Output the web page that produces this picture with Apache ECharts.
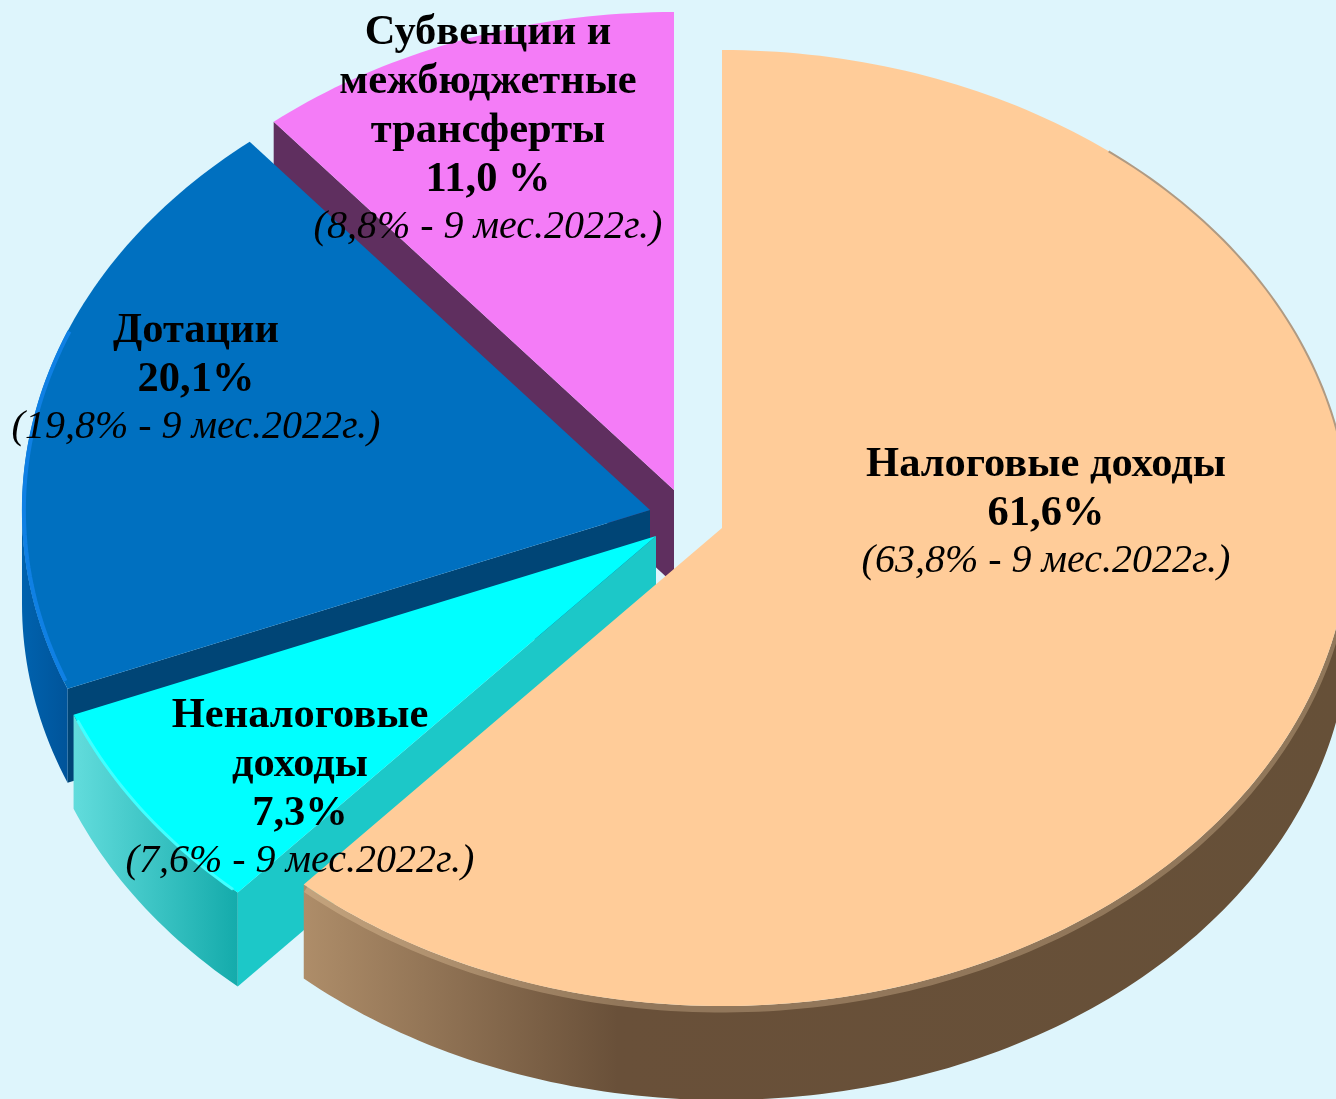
<!DOCTYPE html>
<html>
<head>
<meta charset="utf-8">
<style>html,body{margin:0;padding:0;background:#DEF5FC}#c{width:1336px;height:1099px}</style>
<script src="https://cdn.jsdelivr.net/npm/echarts@6/dist/echarts.min.js"></script>
</head>
<body>
<div id="c"></div>
<script>
// ---- data ----
const categories = ['Налоговые доходы', 'Неналоговые\nдоходы', 'Дотации', 'Субвенции и\nмежбюджетные\nтрансферты'];
const values = [61.6, 7.3, 20.1, 11.0];
const valueLabels = ['61,6%', '7,3%', '20,1%', '11,0 %'];
const previousLabels = ['63,8%', '7,6%', '19,8%', '8,8%'];
const previousPeriod = '9 мес.2022г.';

// ---- layout and styles ----
const RX = 628, RY = 478, DEPTH = 94;
const sliceTips = [[722, 528], [656, 536], [650, 510], [674, 490]];
const paintOrder = [3, 2, 1, 0];
const labelAnchors = [[1046, 465], [300, 716], [196, 331], [488, 33]];
const topColors = ['#FFCC99', '#00FFFF', '#0070C0', '#F47CF7'];
const radialWallColors = ['#665038', '#1CC8C8', '#004576', '#5F2F5F'];
const outerWallStops = [
  [[0, '#AE8D69'], [0.3, '#695039'], [1, '#665038']],
  [[0, '#62DCDC'], [1, '#14ABAB']],
  [[0, '#0062AE'], [1, '#00549A']],
  [[0, '#5F2F5F'], [1, '#5F2F5F']]
];
const bevels = [
  {from: 100, to: 221.5, color: 'rgba(255,222,180,0.28)', width: 7, dy: 3},
  {from: 222.5, to: 247.5, color: '#40FFFF', width: 3, dy: 2},
  {from: 249, to: 292, color: '#0F80E4', width: 4, dy: 0},
  null
];
const rimLines = [{from: 38, to: 100, color: '#B09A82', width: 2}, null, null, null];

const total = values.reduce((a, b) => a + b, 0);
const startAngles = [];
values.reduce((acc, v, i) => { startAngles[i] = acc; return acc + v / total * 360; }, 0);

function point(tip, deg, scale, dy) {
  const t = deg * Math.PI / 180;
  return [tip[0] + RX * scale * Math.sin(t), tip[1] - RY * scale * Math.cos(t) + (dy || 0)];
}
function arc(tip, a, b, scale, dy) {
  const pts = [], n = Math.max(2, Math.ceil(Math.abs(b - a)));
  for (let i = 0; i <= n; i++) pts.push(point(tip, a + (b - a) * i / n, scale, dy));
  return pts;
}

function renderSlice(params) {
  const i = params.dataIndex, tip = sliceTips[i];
  const a = startAngles[i], b = a + values[i] / total * 360;
  const base = paintOrder[i] * 10;
  const children = [];

  if (Math.sin(a * Math.PI / 180) < -1e-6) {
    const s = point(tip, a, 1);
    children.push({type: 'polygon', z2: base + 1,
      shape: {points: [tip, s, [s[0], s[1] + DEPTH], [tip[0], tip[1] + DEPTH]]},
      style: {fill: radialWallColors[i]}});
  }
  const wa = Math.max(a, 90), wb = Math.min(b, 270);
  if (wb > wa) {
    const upper = arc(tip, wa, wb, 1, 0), lower = arc(tip, wb, wa, 1, DEPTH);
    children.push({type: 'polygon', z2: base + 2,
      shape: {points: upper.concat(lower)},
      style: {fill: {type: 'linear', x: 0, y: 0, x2: 1, y2: 0, colorStops:
        outerWallStops[i].map(s => ({offset: s[0], color: s[1]}))}}});
  }
  const bevel = bevels[i];
  if (bevel && i === 0) {
    children.push({type: 'polyline', z2: base + 3,
      shape: {points: arc(tip, bevel.from, bevel.to, 1, bevel.dy)},
      style: {fill: null, stroke: bevel.color, lineWidth: bevel.width}});
  }
  children.push({type: 'polygon', z2: base + 4,
    shape: {points: [tip].concat(arc(tip, a, b, 1, 0))},
    style: {fill: topColors[i]}});
  if (bevel && i !== 0) {
    children.push({type: 'polyline', z2: base + 5,
      shape: {points: arc(tip, bevel.from, bevel.to, 0.997, bevel.dy)},
      style: {fill: null, stroke: bevel.color, lineWidth: bevel.width}});
  }
  const rim = rimLines[i];
  if (rim) {
    children.push({type: 'polyline', z2: base + 5,
      shape: {points: arc(tip, rim.from, rim.to, 1, 0)},
      style: {fill: null, stroke: rim.color, lineWidth: rim.width}});
  }
  return {type: 'group', children};
}

const FONT = '"Liberation Serif","Times New Roman",serif';
function renderLabel(params) {
  const i = params.dataIndex, x = labelAnchors[i][0];
  let y = labelAnchors[i][1];
  const lines = categories[i].split('\n').concat(valueLabels[i]);
  const children = [];
  const t = (text, yy, weight, style, size) => ({type: 'text', z2: 100,
    style: {x, y: yy, text, fontFamily: FONT, fontWeight: weight, fontStyle: style, fontSize: size,
      fill: '#000', textAlign: 'center', textVerticalAlign: 'middle'}});
  lines.forEach(line => { children.push(t(line, y, 'bold', 'normal', 42.5)); y += 49; });
  children.push(t('(' + previousLabels[i] + ' - ' + previousPeriod + ')', y - 2, 'normal', 'italic', 40));
  return {type: 'group', children};
}

const chart = echarts.init(document.getElementById('c'), null, {renderer: 'canvas'});
chart.setOption({
  backgroundColor: '#DEF5FC',
  animation: false,
  series: [
    {type: 'custom', coordinateSystem: 'none', silent: true, z: 2, renderItem: renderSlice, data: values},
    {type: 'custom', coordinateSystem: 'none', silent: true, z: 5, renderItem: renderLabel, data: values}
  ]
});
</script>
</body>
</html>
